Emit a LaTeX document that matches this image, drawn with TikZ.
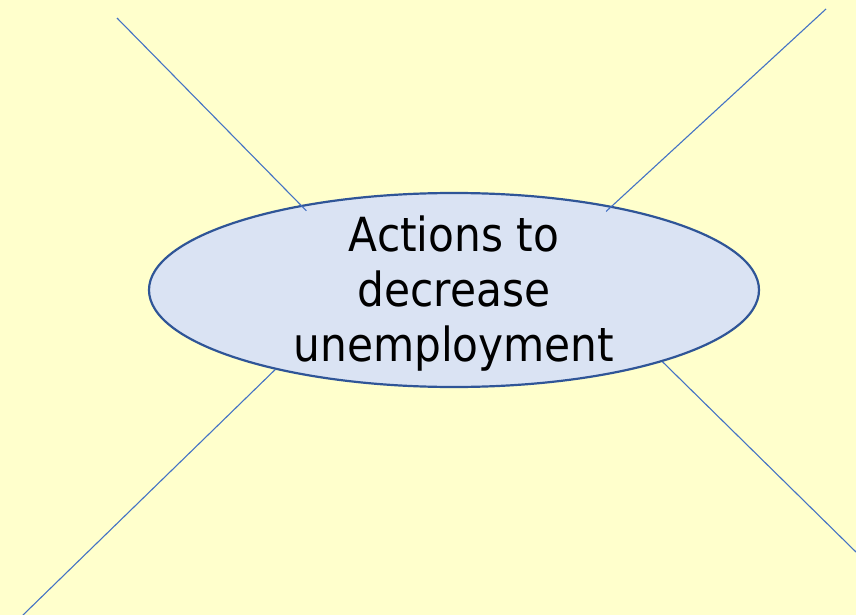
\documentclass[tikz,border=0pt]{standalone}
\usepackage{fontspec}
\setmainfont{DejaVu Sans Condensed}
\usetikzlibrary{shapes.geometric}
\definecolor{paper}{HTML}{FFFFCC}
\definecolor{bubble}{HTML}{DAE3F3}
\definecolor{rim}{HTML}{2F5597}
\definecolor{spoke}{HTML}{4472C4}
\tikzset{
  topic/.style={ellipse, draw=rim, line width=2.2pt, fill=bubble,
    minimum width=610pt, minimum height=194pt, inner sep=0pt},
  topictext/.style={align=center, inner sep=0pt,
    font=\fontsize{47}{55}\selectfont},
  spokeline/.style={draw=spoke, line width=1.1pt}
}
\begin{document}
\begin{tikzpicture}[x=1pt, y=-1pt]
      \fill[paper] (0,0) rectangle (856,615);       % background
      \useasboundingbox (0,0) rectangle (856,615);
      %
      \coordinate (nw) at (117,18);                 % free ends
      \coordinate (ne) at (826,9);
      \coordinate (sw) at (23,615);
      \coordinate (se) at (856,552);
      %
      \node[topic] (act) at (454,290) {};
      \node[topictext] (lbl) at ([yshift=-4pt]act.center) {Actions to\\decrease\\unemployment};
      %
      \draw[spokeline, shorten >=-8pt] (nw) -- (act.151.4); % top spokes
      \draw[spokeline, shorten >=-8pt] (ne) -- (act.28.4);
      %%
      \draw[spokeline] (sw) -- (act.204.7);         % bottom spokes
      \draw[spokeline] (se) -- (act.341.6);
      %
    \end{tikzpicture}
\end{document}
